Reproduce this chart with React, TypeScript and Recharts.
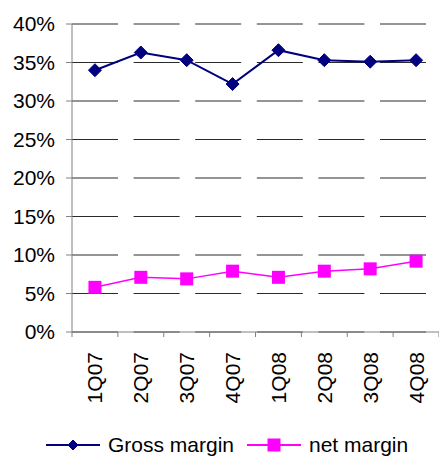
import { LineChart, Line, XAxis, YAxis, CartesianGrid, Legend } from "recharts";

const quarters = ["1Q07", "2Q07", "3Q07", "4Q07", "1Q08", "2Q08", "3Q08", "4Q08"];
const grossMargin = [34.0, 36.3, 35.3, 32.2, 36.6, 35.3, 35.1, 35.3];
const netMargin = [5.8, 7.1, 6.9, 7.9, 7.1, 7.9, 8.2, 9.2];
const yTicks = [0, 5, 10, 15, 20, 25, 30, 35, 40];

const GROSS = "#000080";
const NET = "#ff00ff";
const AXIS = "#808080";
const FONT = "'Liberation Sans', Arial, sans-serif";

const WIDTH = 439;
const HEIGHT = 456;
const PLOT_LEFT = 72;
const BAND = (WIDTH - PLOT_LEFT) / quarters.length;

const data = quarters.map((q, i) => ({ q, gross: grossMargin[i], net: netMargin[i] }));

function Diamond({ cx, cy, r = 6.5, color }: { cx?: number; cy?: number; r?: number; color: string }) {
  if (cx == null || cy == null) return null;
  return <path d={`M${cx},${cy - r}L${cx + r},${cy}L${cx},${cy + r}L${cx - r},${cy}Z`} fill={color} stroke={color} />;
}

function Square({ cx, cy, s = 6.5, color }: { cx?: number; cy?: number; s?: number; color: string }) {
  if (cx == null || cy == null) return null;
  return <rect x={cx - s} y={cy - s} width={s * 2} height={s * 2} fill={color} />;
}

// category labels read bottom-to-top, tick marks sit on the band edges
function QuarterTick(props: any) {
  const { x, y, payload, index } = props;
  const left = x - BAND / 2;
  return (
    <g>
      <line x1={left} y1={y - 8} x2={left} y2={y - 3} stroke={AXIS} />
      {index === quarters.length - 1 && (
        <line x1={x + BAND / 2} y1={y - 8} x2={x + BAND / 2} y2={y - 3} stroke={AXIS} />
      )}
      <text
        x={x}
        y={y + 12}
        transform={`rotate(-90, ${x}, ${y + 12})`}
        textAnchor="end"
        dy="0.36em"
        fontSize={21}
        fontFamily={FONT}
        fill="#000"
      >
        {payload.value}
      </text>
    </g>
  );
}

function LegendContent() {
  const item = (label: string, color: string, marker: React.ReactNode, width: number) => (
    <div style={{ display: "flex", alignItems: "center", marginRight: 9 }}>
      <svg width={56} height={20}>
        <line x1={0} y1={10} x2={54} y2={10} stroke={color} strokeWidth={2} />
        {marker}
      </svg>
      <span style={{ marginLeft: 6, fontSize: 21, fontFamily: FONT, color: "#000", width }}>{label}</span>
    </div>
  );
  return (
    <div style={{ display: "flex", alignItems: "center", paddingLeft: 46, height: 24 }}>
      {item("Gross margin", GROSS, <Diamond cx={27} cy={10} r={5} color={GROSS} />, 130)}
      {item("net margin", NET, <Square cx={27} cy={10} s={6.5} color={NET} />, 100)}
    </div>
  );
}

export default function App() {
  return (
    <div style={{ position: "absolute", left: 0, top: 0, background: "#fff" }}>
      <LineChart width={WIDTH} height={HEIGHT} data={data} margin={{ top: 24, right: 0, bottom: 0, left: 0 }}>
        <CartesianGrid vertical={false} stroke="#2a2a2a" strokeDasharray="46 15.6" />
        <XAxis
          dataKey="q"
          padding={{ left: BAND / 2, right: BAND / 2 }}
          height={100}
          stroke={AXIS}
          tickLine={false}
          tick={<QuarterTick />}
          interval={0}
        />
        <YAxis
          domain={[0, 40]}
          ticks={yTicks}
          width={PLOT_LEFT}
          stroke={AXIS}
          tickSize={6}
          tickMargin={11}
          tickFormatter={(v: number) => `${v}%`}
          tick={{ fontSize: 21, fontFamily: FONT, fill: "#000" }}
          interval={0}
        />
        <Legend
          verticalAlign="bottom"
          content={<LegendContent />}
          wrapperStyle={{ position: "absolute", left: 0, top: 433, width: WIDTH, height: 24 }}
        />
        <Line
          dataKey="gross"
          stroke={GROSS}
          strokeWidth={2}
          dot={(p: any) => <Diamond key={`g${p.index}`} cx={p.cx} cy={p.cy} color={GROSS} />}
          isAnimationActive={false}
        />
        <Line
          dataKey="net"
          stroke={NET}
          strokeWidth={1.5}
          dot={(p: any) => <Square key={`n${p.index}`} cx={p.cx} cy={p.cy} color={NET} />}
          isAnimationActive={false}
        />
      </LineChart>
    </div>
  );
}
